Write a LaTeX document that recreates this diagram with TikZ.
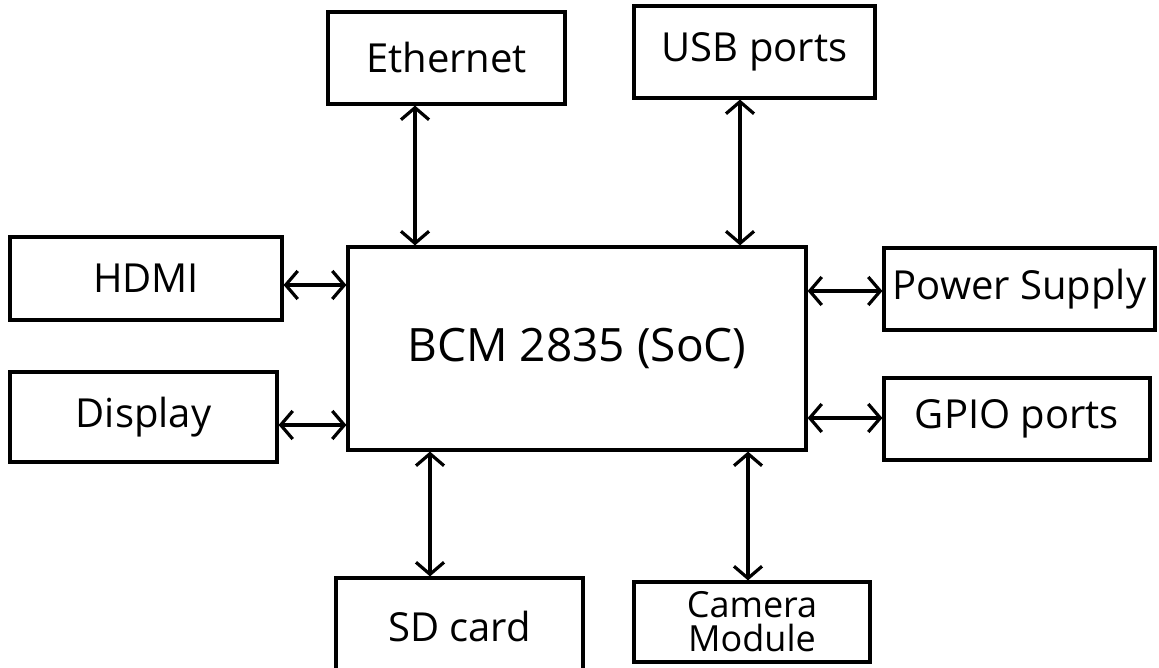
\documentclass[tikz,border=0pt]{standalone}
\usepackage{fontspec}
\setmainfont{Open Sans}
\usetikzlibrary{arrows.meta}
\begin{document}
\begin{tikzpicture}[x=1pt,y=-1pt,
  box/.style={draw=black, line width=3.2pt, rectangle, inner sep=0pt, align=center,
    font=\fontsize{40}{46}\selectfont},
  link/.style={draw=black, line width=3.2pt, {Straight Barb[length=12pt,width=28pt]}-{Straight Barb[length=12pt,width=28pt]}}
]
\useasboundingbox[fill=white] (0,0) rectangle (1159,668);
\node[box, minimum width=237pt, minimum height=92pt] (eth) at (446.5,58) {Ethernet};
\node[box, minimum width=241pt, minimum height=92pt] (usb) at (754.5,52) {USB ports};
\node[box, minimum width=272pt, minimum height=83pt] (hdmi) at (146,278.5) {HDMI};
\node[box, minimum width=267pt, minimum height=90pt] (disp) at (143.5,417) {Display};
\node[box, minimum width=458pt, minimum height=203pt, font=\fontsize{46}{52}\selectfont] (soc) at (577,348.5) {BCM 2835 (SoC)};
\node[box, minimum width=271pt, minimum height=82pt] (pwr) at (1019.5,289) {Power Supply};
\node[box, minimum width=266pt, minimum height=82pt] (gpio) at (1017,419) {GPIO ports};
\node[box, minimum width=247pt, minimum height=96pt] (sd) at (459.5,626) {SD card};
\node[box, minimum width=236pt, minimum height=80pt, font=\fontsize{36}{34}\selectfont] (cam) at (752,622) {Camera\\Module};

\draw[link] ([xshift=-31.5pt]eth.south) -- ([xshift=-162pt]soc.north);
\draw[link] ([xshift=-14.5pt]usb.south) -- ([xshift=163pt]soc.north);
\draw[link] ([yshift=-6.5pt]hdmi.east) -- ([yshift=63.5pt]soc.west);
\draw[link] ([yshift=-8pt]disp.east) -- ([yshift=-76.5pt]soc.west);
\draw[link] ([yshift=57.5pt]soc.east) -- ([yshift=-2pt]pwr.west);
\draw[link] ([yshift=-69.5pt]soc.east) -- ([yshift=1pt]gpio.west);
\draw[link] ([xshift=-147pt]soc.south) -- ([xshift=-29.5pt]sd.north);
\draw[link] ([xshift=171pt]soc.south) -- ([xshift=-4pt]cam.north);
\end{tikzpicture}
\end{document}
